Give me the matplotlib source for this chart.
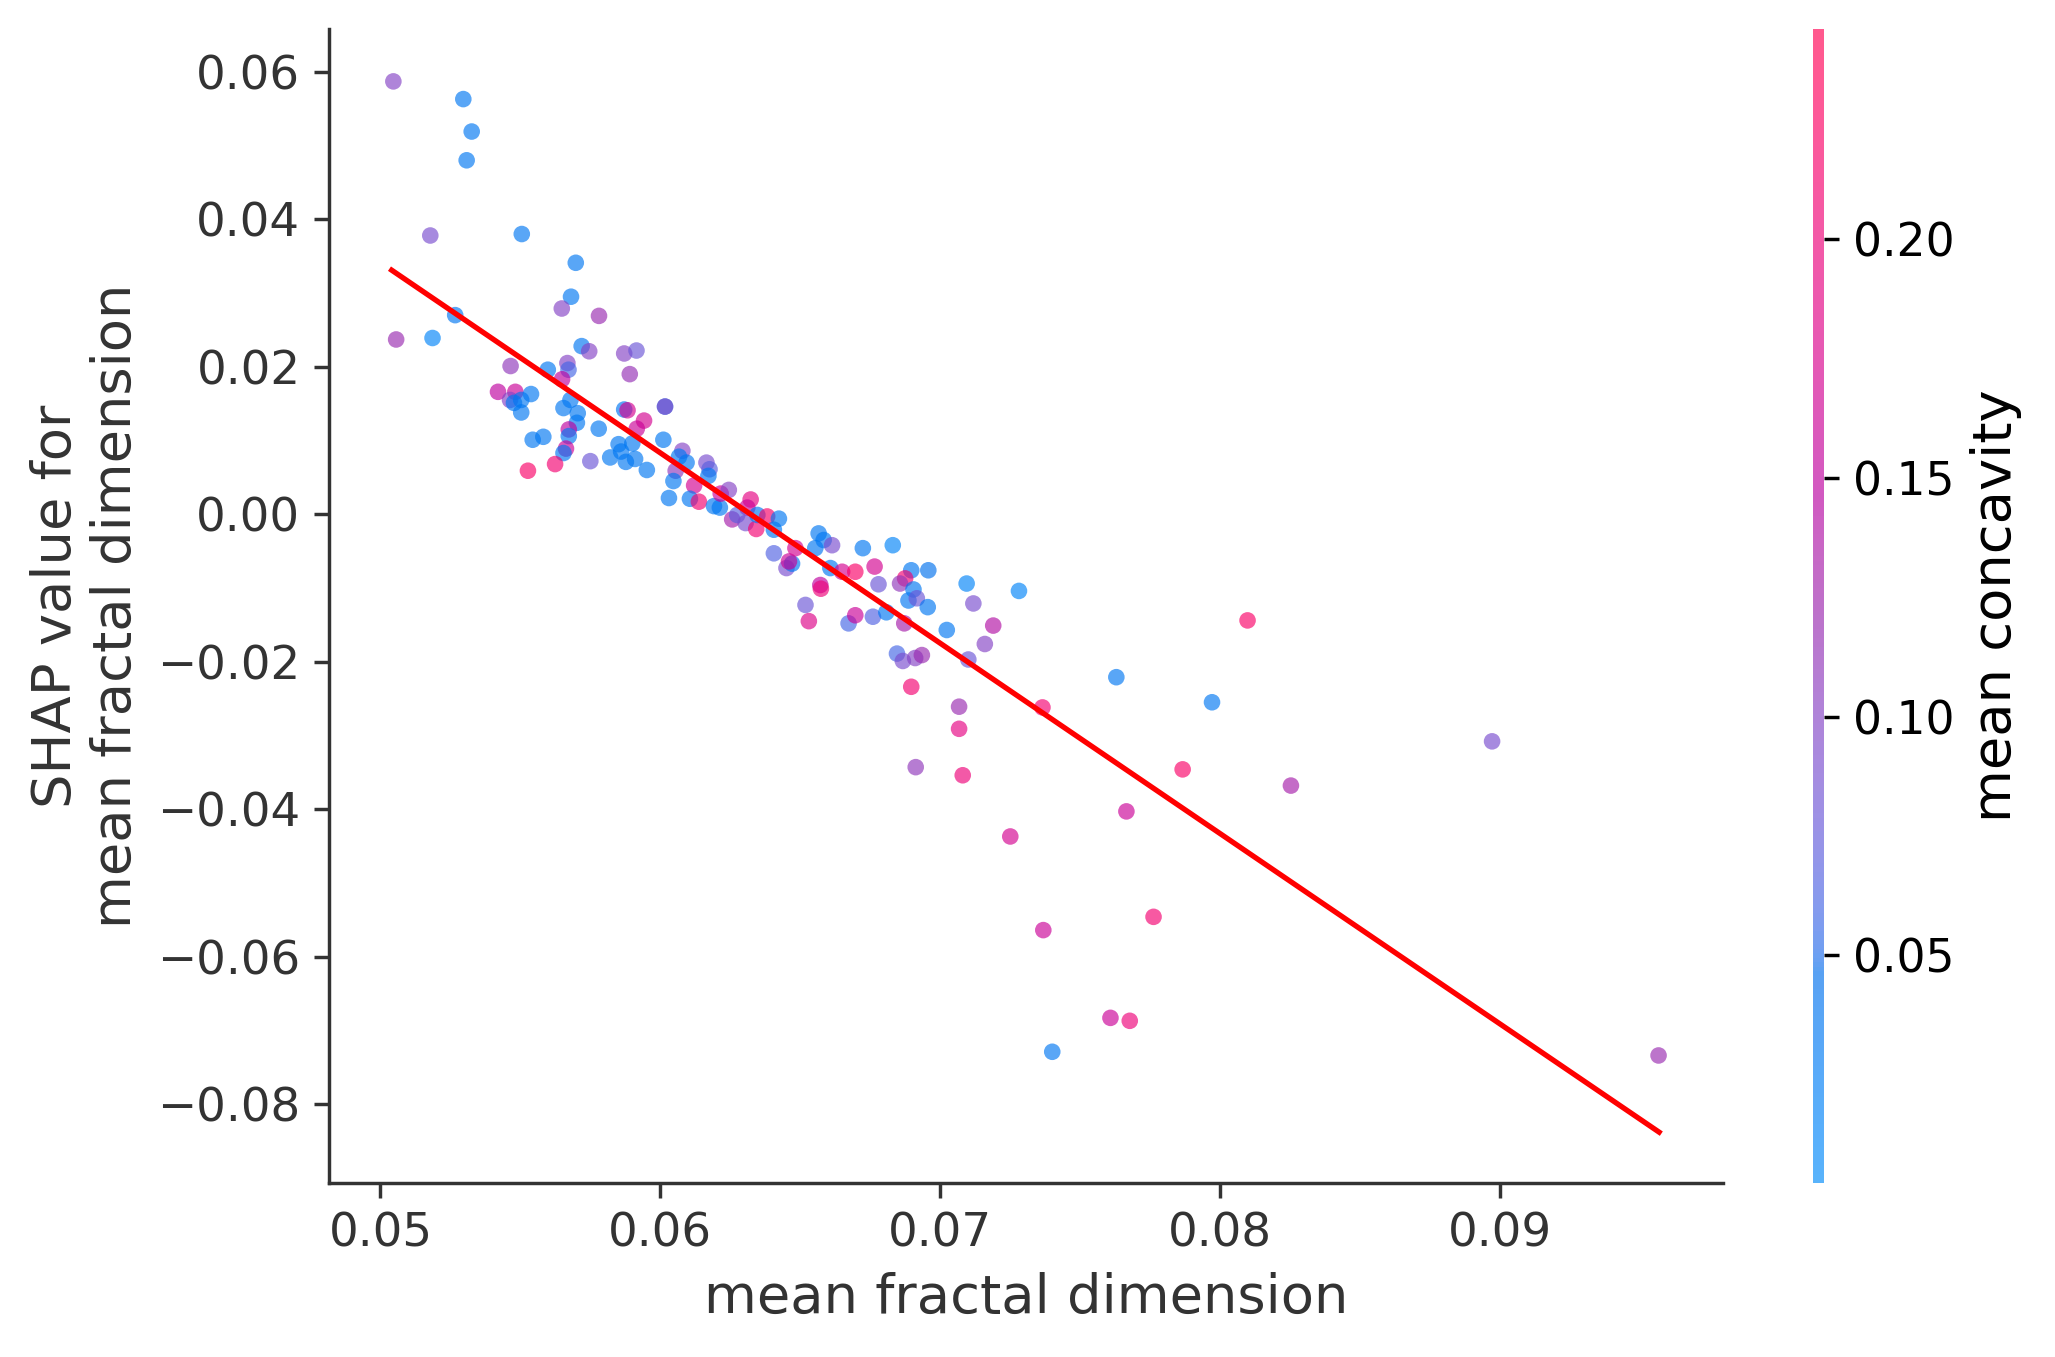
import numpy as np
import matplotlib
matplotlib.use("Agg")
import matplotlib.pyplot as plt
from matplotlib.colors import LinearSegmentedColormap, Normalize

# ---------------- data ----------------
fractal_dim = [
    0.05046, 0.05296, 0.05326, 0.05308, 0.05178, 0.05505, 0.05698, 0.05681, 0.05648, 0.05781,
    0.05267, 0.05056, 0.05186, 0.05719, 0.05746, 0.05871, 0.05915, 0.05891, 0.05465, 0.05598,
    0.05668, 0.05672, 0.05649, 0.05420, 0.05482, 0.05538, 0.05463, 0.05503, 0.05477, 0.05503,
    0.05654, 0.05679, 0.05705, 0.05702, 0.05780, 0.05673, 0.05673, 0.05544, 0.05582, 0.05663,
    0.05654, 0.05527, 0.05624, 0.05750, 0.05871, 0.05883, 0.05942, 0.05916, 0.06017, 0.06017,
    0.06011, 0.05851, 0.05860, 0.05821, 0.05877, 0.05910, 0.05952, 0.05900, 0.06079, 0.06067,
    0.06094, 0.06055, 0.06047, 0.06165, 0.06176, 0.06172, 0.06121, 0.06031, 0.06106, 0.06138,
    0.06192, 0.06213, 0.06216, 0.06245, 0.06323, 0.06311, 0.06257, 0.06275, 0.06305, 0.06343,
    0.06347, 0.06382, 0.06406, 0.06424, 0.06406, 0.06451, 0.06471, 0.06460, 0.06483, 0.06566,
    0.06584, 0.06614, 0.06554, 0.06608, 0.06650, 0.06697, 0.06572, 0.06574, 0.06519, 0.06531,
    0.06673, 0.06697, 0.06724, 0.06766, 0.06780, 0.06760, 0.06808, 0.06831, 0.06897, 0.06875,
    0.06857, 0.06958, 0.06905, 0.06887, 0.06917, 0.06956, 0.06872, 0.07024, 0.07095, 0.07119,
    0.06846, 0.06867, 0.06911, 0.06935, 0.07101, 0.06897, 0.07068, 0.07068, 0.07160, 0.07282,
    0.08099, 0.07630, 0.07972, 0.07366, 0.07190, 0.06913, 0.07081, 0.07867, 0.07666, 0.07251,
    0.08973, 0.08254, 0.07763, 0.07369, 0.07609, 0.07678, 0.07401, 0.09568,
]
shap_values = [
    0.0587, 0.0563, 0.0519, 0.0480, 0.0378, 0.0380, 0.0341, 0.0295, 0.0279, 0.0269,
    0.0270, 0.0237, 0.0239, 0.0228, 0.0221, 0.0218, 0.0222, 0.0190, 0.0201, 0.0196,
    0.0205, 0.0196, 0.0183, 0.0166, 0.0166, 0.0163, 0.0155, 0.0155, 0.0151, 0.0138,
    0.0144, 0.0155, 0.0137, 0.0124, 0.0116, 0.0115, 0.0106, 0.0101, 0.0105, 0.0089,
    0.0083, 0.0059, 0.0068, 0.0072, 0.0142, 0.0141, 0.0127, 0.0116, 0.0146, 0.0146,
    0.0101, 0.0095, 0.0085, 0.0077, 0.0071, 0.0075, 0.0060, 0.0096, 0.0086, 0.0078,
    0.0070, 0.0059, 0.0045, 0.0070, 0.0061, 0.0052, 0.0039, 0.0022, 0.0021, 0.0017,
    0.0011, 0.0009, 0.0028, 0.0033, 0.0020, 0.0009, -0.0007, -0.0001, -0.0012, -0.0020,
    -0.0001, -0.0003, -0.0021, -0.0006, -0.0053, -0.0073, -0.0067, -0.0064, -0.0046, -0.0026,
    -0.0035, -0.0042, -0.0046, -0.0073, -0.0078, -0.0078, -0.0096, -0.0101, -0.0123, -0.0145,
    -0.0148, -0.0137, -0.0046, -0.0071, -0.0095, -0.0139, -0.0133, -0.0042, -0.0076, -0.0087,
    -0.0094, -0.0076, -0.0102, -0.0117, -0.0114, -0.0126, -0.0148, -0.0157, -0.0094, -0.0121,
    -0.0189, -0.0199, -0.0195, -0.0191, -0.0197, -0.0234, -0.0261, -0.0291, -0.0176, -0.0104,
    -0.0144, -0.0221, -0.0255, -0.0262, -0.0151, -0.0343, -0.0354, -0.0346, -0.0403, -0.0437,
    -0.0308, -0.0368, -0.0546, -0.0564, -0.0683, -0.0687, -0.0729, -0.0734,
]
mean_concavity = [
    0.100, 0.035, 0.035, 0.035, 0.090, 0.035, 0.035, 0.035, 0.100, 0.120,
    0.035, 0.120, 0.015, 0.035, 0.100, 0.100, 0.080, 0.115, 0.110, 0.035,
    0.100, 0.060, 0.150, 0.150, 0.160, 0.035, 0.100, 0.035, 0.035, 0.035,
    0.035, 0.035, 0.035, 0.035, 0.035, 0.150, 0.035, 0.035, 0.035, 0.160,
    0.035, 0.220, 0.210, 0.080, 0.035, 0.170, 0.170, 0.160, 0.035, 0.100,
    0.035, 0.035, 0.035, 0.035, 0.035, 0.035, 0.035, 0.035, 0.100, 0.035,
    0.035, 0.110, 0.035, 0.090, 0.070, 0.035, 0.170, 0.035, 0.035, 0.210,
    0.035, 0.035, 0.160, 0.100, 0.190, 0.160, 0.130, 0.070, 0.090, 0.210,
    0.035, 0.220, 0.035, 0.035, 0.065, 0.090, 0.035, 0.160, 0.170, 0.035,
    0.035, 0.090, 0.035, 0.035, 0.170, 0.220, 0.150, 0.200, 0.080, 0.180,
    0.060, 0.160, 0.035, 0.170, 0.080, 0.065, 0.035, 0.015, 0.035, 0.210,
    0.110, 0.045, 0.035, 0.035, 0.080, 0.035, 0.130, 0.035, 0.015, 0.090,
    0.060, 0.090, 0.100, 0.120, 0.080, 0.210, 0.120, 0.190, 0.100, 0.015,
    0.220, 0.035, 0.035, 0.210, 0.140, 0.110, 0.200, 0.220, 0.160, 0.170,
    0.090, 0.130, 0.210, 0.160, 0.160, 0.200, 0.035, 0.120,
]
fit_x = [0.0504, 0.0957]
fit_y = [0.0331, -0.0838]
x_ticks = [0.05, 0.06, 0.07, 0.08, 0.09]
y_ticks = [0.06, 0.04, 0.02, 0.00, -0.02, -0.04, -0.06, -0.08]
cbar_ticks = [0.05, 0.10, 0.15, 0.20]
color_limits = [0.0023, 0.2440]

# ---------------- SHAP-like red_blue colormap (LCH interpolation) ----------------
def lch_to_rgb(l, c, h):
    a = c * np.cos(h)
    b = c * np.sin(h)
    fy = (l + 16.0) / 116.0
    fx = fy + a / 500.0
    fz = fy - b / 200.0

    def finv(t):
        d = 6.0 / 29.0
        return np.where(t > d, t ** 3, 3 * d * d * (t - 4.0 / 29.0))

    X = 0.95047 * finv(fx)
    Y = 1.00000 * finv(fy)
    Z = 1.08883 * finv(fz)
    M = np.array([[3.2406, -1.5372, -0.4986],
                  [-0.9689, 1.8758, 0.0415],
                  [0.0557, -0.2040, 1.0570]])
    lin = M @ np.array([X, Y, Z])
    lin = np.clip(lin, 0, 1)
    rgb = np.where(lin > 0.0031308, 1.055 * lin ** (1 / 2.4) - 0.055, 12.92 * lin)
    return np.clip(rgb, 0, 1)

blue_lch = [54.0, 70.0, 4.6588]
l_mid = 40.0
red_lch = [54.0, 90.0, 0.35470565 + 2 * np.pi]
nsteps = 100
l_vals = list(np.linspace(blue_lch[0], l_mid, nsteps // 2)) + list(np.linspace(l_mid, red_lch[0], nsteps // 2))
c_vals = np.linspace(blue_lch[1], red_lch[1], nsteps)
h_vals = np.linspace(blue_lch[2], red_lch[2], nsteps)
cols = [lch_to_rgb(l, c, h) for l, c, h in zip(l_vals, c_vals, h_vals)]
cols[0] = np.array([0.0, 0.5411764705882353, 0.9803921568627451])
cols[-1] = np.array([1.0, 0.0, 0.3176470588235294])
red_blue = LinearSegmentedColormap.from_list("red_blue", cols)

# ---------------- figure ----------------
DPI = 274
fig = plt.figure(figsize=(2055 / DPI, 1357 / DPI), dpi=DPI)
ax = fig.add_axes([0.1601, 0.1282, 0.6783, 0.8504])
cax = fig.add_axes([0.8823, 0.1282, 0.0054, 0.8504])

gray = "#333333"
norm = Normalize(vmin=color_limits[0], vmax=color_limits[1])
sc = ax.scatter(fractal_dim, shap_values, c=mean_concavity, cmap=red_blue, norm=norm,
                s=19, linewidths=0, alpha=0.65, zorder=2)
ax.plot(fit_x, fit_y, color="red", lw=1.4, zorder=3)

ax.set_xlim(0.04816, 0.09798)
ax.set_ylim(-0.0907, 0.0658)
ax.set_xticks(x_ticks)
ax.set_xticklabels([f"{t:.2f}" for t in x_ticks])
ax.set_yticks(y_ticks)
ax.set_yticklabels([f"{t:.2f}".replace("-", "\u2212") for t in y_ticks])

for side in ["top", "right"]:
    ax.spines[side].set_visible(False)
for side in ["left", "bottom"]:
    ax.spines[side].set_color(gray)
    ax.spines[side].set_linewidth(0.9)
ax.tick_params(axis="both", colors=gray, labelcolor=gray, labelsize=12.3, length=4, width=0.9)

ax.set_xlabel("mean fractal dimension", fontsize=14.3, color=gray)
ax.set_ylabel("SHAP value for\nmean fractal dimension", fontsize=14.3, color=gray)

cb = fig.colorbar(sc, cax=cax, ticks=cbar_ticks)
cb.outline.set_visible(False)
cb.ax.set_yticklabels([f"{t:.2f}" for t in cbar_ticks])
cb.ax.tick_params(labelsize=12.0, colors="black", length=4, width=0.9)
cb.set_label("mean concavity", fontsize=14.3, color="black")

fig.savefig("out.png", dpi=DPI)
